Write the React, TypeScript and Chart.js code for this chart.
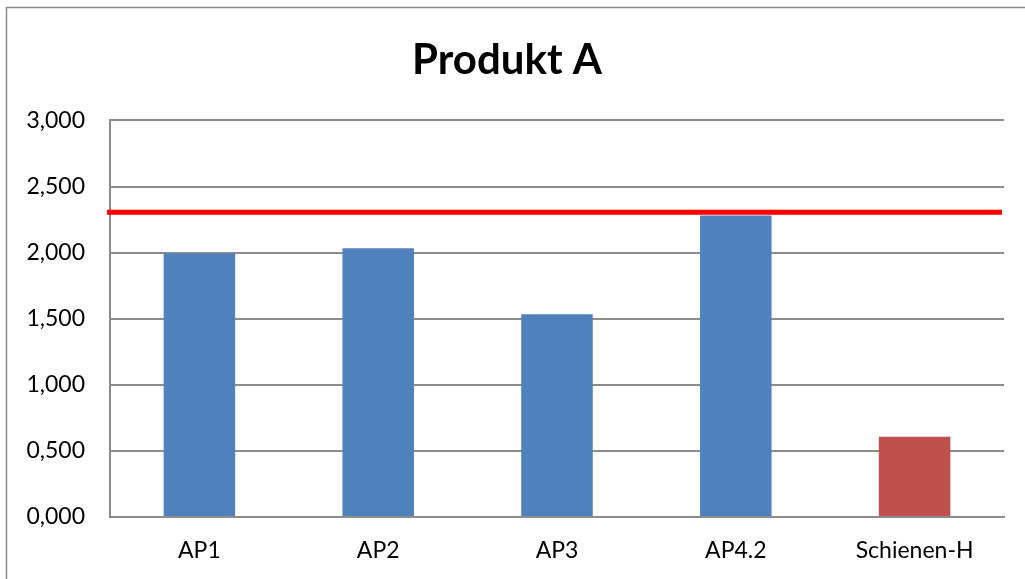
import React, { useEffect, useRef } from "react";
import { Chart, registerables } from "chart.js";

Chart.register(...registerables);

const categories = ["AP1", "AP2", "AP3", "AP4.2", "Schienen-H"];
const values = [1.995, 2.033, 1.534, 2.28, 0.607];
const barColors = ["#4F81BD", "#4F81BD", "#4F81BD", "#4F81BD", "#C0504D"];
const limitValue = 2.305;
const titleText = "Produkt A";
const yMin = 0;
const yMax = 3;
const yStep = 0.5;

const limitLinePlugin = {
  id: "limitLine",
  afterDatasetsDraw(chart: any) {
    const { ctx, chartArea, scales } = chart;
    const y = scales.y.getPixelForValue(limitValue);
    ctx.save();
    ctx.strokeStyle = "#FF0000";
    ctx.lineWidth = 5;
    ctx.beginPath();
    ctx.moveTo(chartArea.left - 3, y);
    ctx.lineTo(chartArea.right - 2, y);
    ctx.stroke();
    ctx.restore();
  },
};

const framePlugin = {
  id: "frame",
  beforeDraw(chart: any) {
    const { ctx, width, height } = chart;
    ctx.save();
    ctx.fillStyle = "#FFFFFF";
    ctx.fillRect(0, 0, width, height);
    ctx.strokeStyle = "#8A8A8A";
    ctx.lineWidth = 1.5;
    ctx.strokeRect(6.5, 7.5, width + 20, height + 20);
    ctx.restore();
  },
};

export default function App() {
  const ref = useRef<HTMLCanvasElement>(null);
  useEffect(() => {
    document.body.style.margin = "0";
    const chart = new Chart(ref.current as HTMLCanvasElement, {
      type: "bar",
      data: {
        labels: categories,
        datasets: [
          {
            data: values,
            backgroundColor: barColors,
            borderWidth: 0,
            categoryPercentage: 1,
            barPercentage: 0.4,
          },
        ],
      },
      options: {
        animation: false,
        responsive: false,
        maintainAspectRatio: false,
        layout: { padding: { left: 10, right: 21, top: 0, bottom: 0 } },
        plugins: {
          legend: { display: false },
          tooltip: { enabled: false },
          title: {
            display: true,
            text: titleText,
            color: "#000000",
            font: { family: "Lato", size: 42, weight: "bold" },
            padding: { top: 35, bottom: 35 },
          },
        },
        scales: {
          x: {
            afterFit: (s: any) => {
              s.height = 62;
            },
            grid: { display: false, drawTicks: false },
            border: { display: true, color: "#8C8C8C", width: 2 },
            ticks: {
              color: "#000000",
              font: { family: "Lato", size: 23 },
              padding: 20,
              maxRotation: 0,
            },
          },
          y: {
            min: yMin,
            max: yMax,
            afterFit: (s: any) => {
              s.width = 100;
            },
            grid: { color: "#8C8C8C", lineWidth: 2, drawTicks: false },
            border: { display: true, color: "#8C8C8C", width: 2 },
            ticks: {
              stepSize: yStep,
              padding: 25,
              color: "#000000",
              font: { family: "Lato", size: 23 },
              callback: (v: any) => Number(v).toFixed(3).replace(".", ","),
            },
          },
        },
      },
      plugins: [framePlugin, limitLinePlugin],
    });
    return () => chart.destroy();
  }, []);
  return (
    <div style={{ width: 1025, height: 579 }}>
      <canvas ref={ref} width={1025} height={579} style={{ display: "block" }} />
    </div>
  );
}
